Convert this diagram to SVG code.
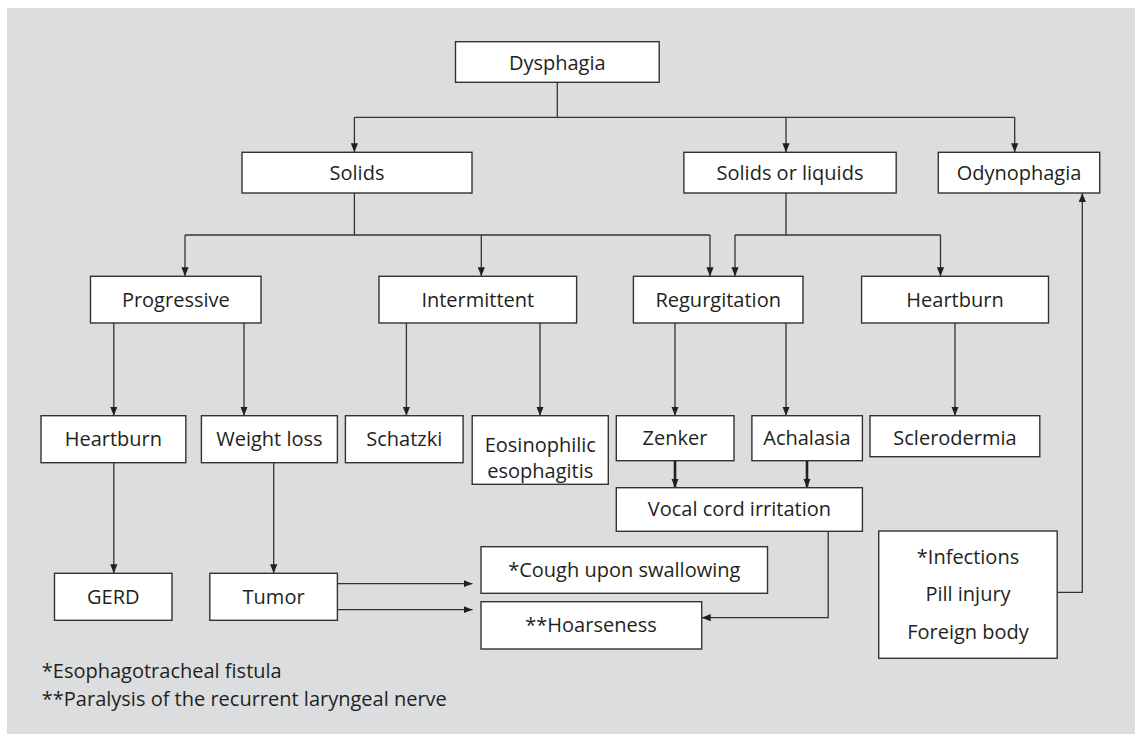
<svg xmlns="http://www.w3.org/2000/svg" width="1135" height="734" viewBox="0 0 1135 734">
<style>
.bx{fill:#fff;stroke:#333;stroke-width:1.4}
.t{font-family:"Open Sans","Noto Sans",sans-serif;font-size:20px;fill:#231f20;text-anchor:middle}
.fn{font-family:"Open Sans","Noto Sans",sans-serif;font-size:20px;fill:#231f20}
.ln{fill:none;stroke:#333;stroke-width:1.3}
.thk{fill:none;stroke:#231f20;stroke-width:2.6}
</style>
<defs>
<marker id="ah" markerWidth="10" markerHeight="8" refX="9" refY="4" orient="auto" markerUnits="userSpaceOnUse">
<polygon points="0,0.4 9,4 0,7.6" fill="#231f20"/>
</marker>
</defs>
<rect x="7" y="8" width="1128" height="726" fill="#dcdddf"/>
<g id="connectors">
<path class="ln" d="M557.3,82.3 V117.3 M354.4,117.3 H1014.7"/>
<path class="ln" marker-end="url(#ah)" d="M354.4,117.3 V152.3"/>
<path class="ln" marker-end="url(#ah)" d="M786,117.3 V152.3"/>
<path class="ln" marker-end="url(#ah)" d="M1014.7,117.3 V152.3"/>
<path class="ln" d="M354.4,193 V235 M185,235 H710"/>
<path class="ln" marker-end="url(#ah)" d="M185,235 V276.3"/>
<path class="ln" marker-end="url(#ah)" d="M481.3,235 V276.3"/>
<path class="ln" marker-end="url(#ah)" d="M710,235 V276.3"/>
<path class="ln" d="M786,193 V235 M735,235 H940.5"/>
<path class="ln" marker-end="url(#ah)" d="M735,235 V276.3"/>
<path class="ln" marker-end="url(#ah)" d="M940.5,235 V276.3"/>
<path class="ln" marker-end="url(#ah)" d="M113.8,323 V415.7"/>
<path class="ln" marker-end="url(#ah)" d="M244,323 V415.7"/>
<path class="ln" marker-end="url(#ah)" d="M406.4,323 V415.7"/>
<path class="ln" marker-end="url(#ah)" d="M540,323 V415.7"/>
<path class="ln" marker-end="url(#ah)" d="M675,323 V415.7"/>
<path class="ln" marker-end="url(#ah)" d="M786,323 V415.7"/>
<path class="ln" marker-end="url(#ah)" d="M955,323 V415.7"/>
<path class="ln" marker-end="url(#ah)" d="M113.8,462.7 V573.3"/>
<path class="ln" marker-end="url(#ah)" d="M273.7,462.7 V573.3"/>
<path class="thk" marker-end="url(#ah)" d="M675,460.7 V487.7"/>
<path class="thk" marker-end="url(#ah)" d="M807,460.7 V487.7"/>
<path class="ln" marker-end="url(#ah)" d="M337.4,583.7 H472.5"/>
<path class="ln" marker-end="url(#ah)" d="M337.4,609.7 H472.5"/>
<path class="ln" marker-end="url(#ah)" d="M828.2,531.3 V617.7 H701.7"/>
<path class="ln" marker-end="url(#ah)" d="M1057.2,592.3 H1082.3 V193"/>
</g>
<g id="n-dysphagia"><rect class="bx" x="455.5" y="41.7" width="203.7" height="40.6"/><text class="t" x="557.3" y="70">Dysphagia</text></g>
<g id="n-solids"><rect class="bx" x="242" y="152.3" width="230" height="40.7"/><text class="t" x="357" y="180">Solids</text></g>
<g id="n-solids-liquids"><rect class="bx" x="683.9" y="152.3" width="212.3" height="40.7"/><text class="t" x="790" y="180">Solids or liquids</text></g>
<g id="n-odynophagia"><rect class="bx" x="938.3" y="152.3" width="161.4" height="40.7"/><text class="t" x="1019" y="180">Odynophagia</text></g>
<g id="n-progressive"><rect class="bx" x="90.5" y="276.3" width="170.5" height="46.7"/><text class="t" x="175.8" y="307">Progressive</text></g>
<g id="n-intermittent"><rect class="bx" x="379" y="276.3" width="197.6" height="46.7"/><text class="t" x="477.8" y="307">Intermittent</text></g>
<g id="n-regurgitation"><rect class="bx" x="633.4" y="276.3" width="169.6" height="46.7"/><text class="t" x="718.2" y="307">Regurgitation</text></g>
<g id="n-heartburn2"><rect class="bx" x="861.6" y="276.3" width="186.9" height="46.7"/><text class="t" x="955" y="307">Heartburn</text></g>
<g id="n-heartburn1"><rect class="bx" x="41" y="415.7" width="144.8" height="47"/><text class="t" x="113.4" y="446">Heartburn</text></g>
<g id="n-weightloss"><rect class="bx" x="201.4" y="415.7" width="136" height="47"/><text class="t" x="269.4" y="446">Weight loss</text></g>
<g id="n-schatzki"><rect class="bx" x="345.4" y="415.7" width="117.7" height="47"/><text class="t" x="404.3" y="446">Schatzki</text></g>
<g id="n-eosinophilic"><rect class="bx" x="472.2" y="415.7" width="136.1" height="68.6"/><text class="t" x="540.3" y="452">Eosinophilic</text><text class="t" x="540.3" y="478.3">esophagitis</text></g>
<g id="n-zenker"><rect class="bx" x="616.3" y="415.7" width="117.7" height="45"/><text class="t" x="675" y="444.5">Zenker</text></g>
<g id="n-achalasia"><rect class="bx" x="751.9" y="415.7" width="110.5" height="45"/><text class="t" x="807" y="444.5">Achalasia</text></g>
<g id="n-sclerodermia"><rect class="bx" x="870" y="415.7" width="169.8" height="41"/><text class="t" x="955" y="444.5">Sclerodermia</text></g>
<g id="n-vocalcord"><rect class="bx" x="616.3" y="487.7" width="246.1" height="43.6"/><text class="t" x="739.4" y="516">Vocal cord irritation</text></g>
<g id="n-gerd"><rect class="bx" x="54.5" y="573.3" width="117.5" height="47"/><text class="t" x="113.3" y="603.5">GERD</text></g>
<g id="n-tumor"><rect class="bx" x="209.8" y="573.3" width="127.6" height="47"/><text class="t" x="273.6" y="603.5">Tumor</text></g>
<g id="n-cough"><rect class="bx" x="481" y="546.7" width="286.5" height="46.6"/><text class="t" x="624.3" y="577">*Cough upon swallowing</text></g>
<g id="n-hoarseness"><rect class="bx" x="481" y="601.7" width="220.7" height="47.3"/><text class="t" x="591" y="632">**Hoarseness</text></g>
<g id="n-infections"><rect class="bx" x="878.7" y="531" width="178.5" height="127.3"/><text class="t" x="968" y="564">*Infections</text><text class="t" x="968" y="601">Pill injury</text><text class="t" x="968" y="638.5">Foreign body</text></g>
<g id="footnotes"><text class="fn" x="41.8" y="678.3">*Esophagotracheal fistula</text><text class="fn" x="41.8" y="705.7">**Paralysis of the recurrent laryngeal nerve</text></g>
</svg>
